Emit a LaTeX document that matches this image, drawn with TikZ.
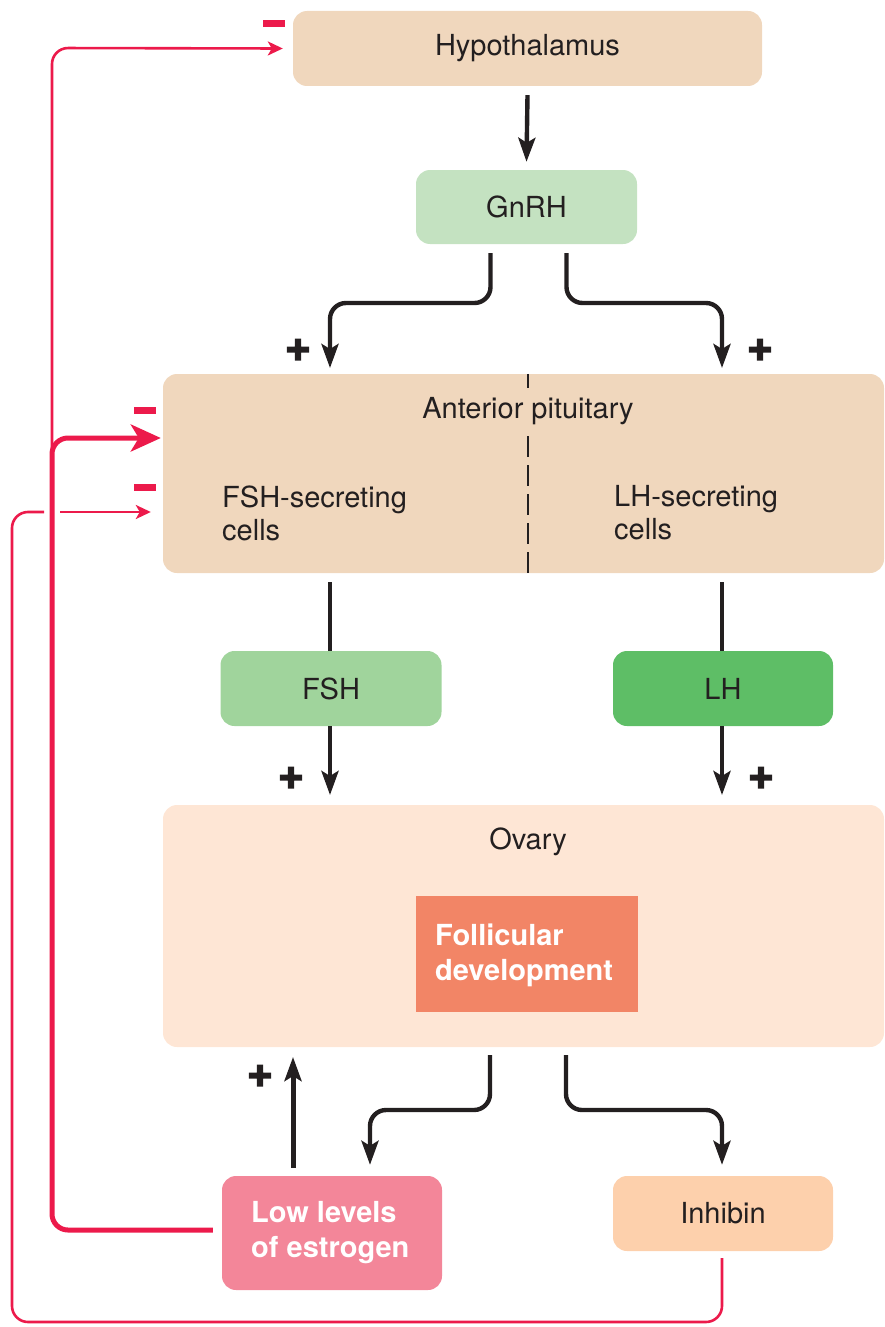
\documentclass[tikz,border=0pt]{standalone}
\usepackage{fontspec}
\setmainfont{TeX Gyre Heros}
\newfontfamily\plusfont{texgyreheros-bold.otf}[FakeBold=4]
\usetikzlibrary{arrows.meta,calc}
\definecolor{hypc}{HTML}{F0D7BD}
\definecolor{gnrhc}{HTML}{C4E2C1}
\definecolor{fshc}{HTML}{A0D49C}
\definecolor{lhc}{HTML}{5EBE66}
\definecolor{ovc}{HTML}{FEE6D5}
\definecolor{folc}{HTML}{F28566}
\definecolor{lowc}{HTML}{F38699}
\definecolor{inhc}{HTML}{FDD0AC}
\definecolor{redc}{HTML}{EC1A4B}
\definecolor{txtc}{HTML}{231F20}
\tikzset{
  box/.style={rounded corners=14pt, inner sep=0pt, text=txtc, font=\fontsize{29}{33}\selectfont},
  blk/.style={line width=4.4pt, draw=txtc, rounded corners=16pt},
  blkarr/.style={blk, -{Stealth[length=24pt,width=17pt,inset=5pt]}},
  redthick/.style={line width=5pt, draw=redc, rounded corners=16pt, -{Stealth[length=30pt,width=27pt,inset=8pt]}},
  redthin/.style={line width=2.6pt, draw=redc, rounded corners=16pt},
  redthinarr/.style={redthin, -{Stealth[length=15pt,width=14pt,inset=4pt]}},
  plussign/.style={font=\fontsize{44}{44}\plusfont, text=txtc, inner sep=0pt},
  minussign/.style={fill=redc, minimum width=22pt, minimum height=7pt, inner sep=0pt},
  lbl/.style={text=txtc, font=\fontsize{29}{33}\selectfont, inner sep=0pt},
  wlbl/.style={text=white, font=\fontsize{29}{35}\selectfont\bfseries, inner sep=0pt, align=left},
  divider/.style={draw=txtc, line width=1.4pt}
}
\begin{document}
\begin{tikzpicture}[x=1pt,y=-1pt]
\useasboundingbox (0,0) rectangle (885,1327);
% boxes
\node[box, fill=hypc, minimum width=469pt, minimum height=75pt] (hyp) at (527.5,48.5) {Hypothalamus};
\node[box, fill=gnrhc, minimum width=221pt, minimum height=74pt] (gnrh) at (526.5,207) {GnRH};
\node[box, fill=hypc, minimum width=721pt, minimum height=199pt] (pit) at (523.5,473.5) {};
\draw[divider] (pit.north -| 528,0) -- (528,388);
\draw[divider, dash pattern=on 21pt off 8pt] (528,436) -- (pit.south -| 528,0);
\node[lbl] (pittxt) at (528,411) {Anterior pituitary};
\node[lbl, anchor=west, align=left] (fshcells) at (222,513) {FSH-secreting\\cells};
\node[lbl, anchor=west, align=left] (lhcells) at (614,513) {LH-secreting\\cells};
\node[box, fill=fshc, minimum width=221pt, minimum height=75pt] (fsh) at (331,688.5) {FSH};
\node[box, fill=lhc, minimum width=220pt, minimum height=75pt] (lh) at (723,688.5) {LH};
\node[box, fill=ovc, minimum width=721pt, minimum height=242pt] (ov) at (523.5,926) {};
\node[lbl] (ovtxt) at (528,842) {Ovary};
\node[fill=folc, minimum width=222pt, minimum height=116pt, inner sep=0pt] (fol) at (527,954) {};
\node[wlbl, anchor=west] (foltxt) at (435,955) {Follicular\\development};
\node[box, fill=lowc, minimum width=220pt, minimum height=114pt] (low) at (332,1233) {};
\node[wlbl, anchor=west] (lowtxt) at (251,1233) {Low levels\\of estrogen};
\node[box, fill=inhc, minimum width=220pt, minimum height=75pt] (inh) at (723,1213.5) {Inhibin};
% hypothalamus -> GnRH
\draw[blkarr] ($(hyp.south)+(0,9)$) -- ($(gnrh.north)+(0,-8)$);
% GnRH -> pituitary
\draw[blkarr] ($(gnrh.south)+(-36,9)$) |- (330,303) -- (330,368);
\draw[blkarr] ($(gnrh.south)+(40,9)$) |- (722,303) -- (722,368);
% pituitary -> FSH / LH
\draw[blk] (330,582) -- (fsh.north -| 330,0);
\draw[blk] (722,582) -- (lh.north -| 722,0);
% FSH / LH -> ovary
\draw[blkarr] (fsh.south -| 330,0) -- (330,795);
\draw[blkarr] (lh.south -| 722,0) -- (722,795);
% ovary -> estrogen / inhibin
\draw[blkarr] (490,1055) |- (370,1110) -- ($(low.north -| 370,0)+(0,-11)$);
\draw[blkarr] (566,1055) |- (722,1110) -- ($(inh.north -| 722,0)+(0,-11)$);
% estrogen -> ovary
\draw[blkarr, line width=5pt] ($(low.north -| 293,0)+(0,-8)$) -- (293,1057);
% plus signs
\node[plussign] (p1) at (298,350) {+};
\node[plussign] (p2) at (760,350) {+};
\node[plussign] (p3) at (291,778) {+};
\node[plussign] (p4) at (761,778) {+};
\node[plussign] (p5) at (260,1076) {+};
% red feedback
\draw[redthinarr] (52,450) -- (52,48) -- ($(hyp.west)+(-10,0)$);
\draw[redthick] ($(low.west)+(-9,-3)$) -| (52,438) -- ($(pit.west |- 0,438)+(-2,0)$);
\draw[redthin] ($(inh.south)+(-1,7)$) |- (12,1322) |- (44,512);
\draw[redthinarr] (60,512) -- ($(pit.west |- 0,512)+(-12,0)$);
% minus signs
\node[minussign] (m1) at (274,24) {};
\node[minussign] (m2) at (145,410) {};
\node[minussign] (m3) at (145,487) {};
\end{tikzpicture}
\end{document}
